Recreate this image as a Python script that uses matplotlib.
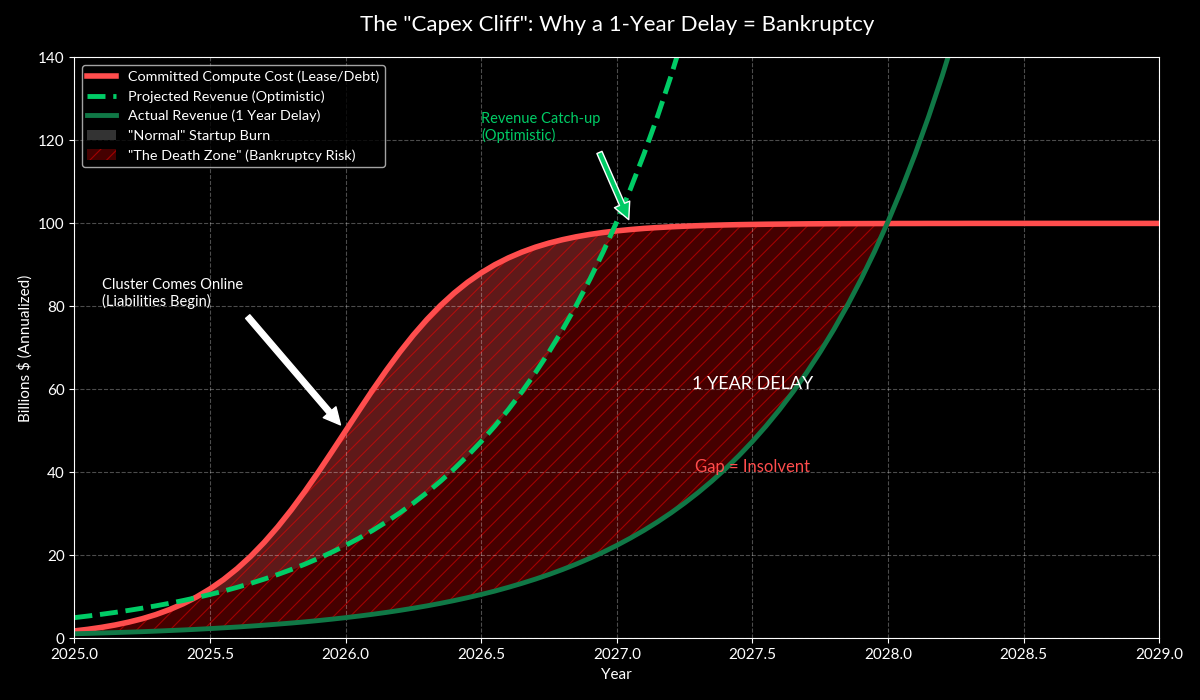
import matplotlib
matplotlib.use("Agg")
import matplotlib.pyplot as plt
import numpy as np

# values, every 0.05 year
years = [2025.00, 2025.05, 2025.10, 2025.15, 2025.20, 2025.25, 2025.30, 2025.35, 2025.40, 2025.45,
         2025.50, 2025.55, 2025.60, 2025.65, 2025.70, 2025.75, 2025.80, 2025.85, 2025.90, 2025.95,
         2026.00, 2026.05, 2026.10, 2026.15, 2026.20, 2026.25, 2026.30, 2026.35, 2026.40, 2026.45,
         2026.50, 2026.55, 2026.60, 2026.65, 2026.70, 2026.75, 2026.80, 2026.85, 2026.90, 2026.95,
         2027.00, 2027.05, 2027.10, 2027.15, 2027.20, 2027.25, 2027.30, 2027.35, 2027.40, 2027.45,
         2027.50, 2027.55, 2027.60, 2027.65, 2027.70, 2027.75, 2027.80, 2027.85, 2027.90, 2027.95,
         2028.00, 2028.05, 2028.10, 2028.15, 2028.20, 2028.25, 2028.30, 2028.35, 2028.40, 2028.45,
         2028.50, 2028.55, 2028.60, 2028.65, 2028.70, 2028.75, 2028.80, 2028.85, 2028.90, 2028.95,
         2029.00]
cost = [1.80, 2.19, 2.66, 3.23, 3.92, 4.74, 5.73, 6.92, 8.32, 9.97,
        11.92, 14.18, 16.80, 19.78, 23.15, 26.89, 31.00, 35.43, 40.13, 45.02,
        50.00, 54.98, 59.87, 64.57, 69.00, 73.11, 76.85, 80.22, 83.20, 85.82,
        88.08, 90.03, 91.68, 93.08, 94.27, 95.26, 96.08, 96.77, 97.34, 97.81,
        98.20, 98.52, 98.79, 99.00, 99.18, 99.33, 99.45, 99.55, 99.63, 99.70,
        99.75, 99.80, 99.83, 99.86, 99.89, 99.91, 99.93, 99.94, 99.95, 99.96,
        99.97, 99.98, 99.98, 99.99, 99.99, 99.99, 100.0, 100.0, 100.0, 100.0,
        100.0, 100.0, 100.0, 100.0, 100.0, 100.0, 100.0, 100.0, 100.0, 100.0,
        100.0]
# projected revenue, 2025.00 - 2027.25 (runs off the top after that)
projected = [5.00, 5.39, 5.81, 6.26, 6.75, 7.28, 7.84, 8.45, 9.11, 9.82,
             10.58, 11.40, 12.30, 13.26, 14.29, 15.40, 16.60, 17.89, 19.29, 20.79,
             22.41, 24.16, 26.03, 28.06, 30.25, 32.61, 35.14, 37.88, 40.83, 44.01,
             47.44, 51.14, 55.12, 59.41, 64.04, 69.03, 74.40, 80.20, 86.44, 93.17,
             100.43, 108.25, 116.68, 125.77, 135.56, 146.12]
# actual revenue (1 year delay), 2025.00 - 2028.25
actual = [1.12, 1.20, 1.30, 1.40, 1.51, 1.62, 1.75, 1.89, 2.03, 2.19,
          2.36, 2.55, 2.74, 2.96, 3.19, 3.44, 3.70, 3.99, 4.30, 4.64,
          5.00, 5.39, 5.81, 6.26, 6.75, 7.28, 7.84, 8.45, 9.11, 9.82,
          10.58, 11.40, 12.30, 13.26, 14.29, 15.40, 16.60, 17.89, 19.29, 20.79,
          22.41, 24.16, 26.03, 28.06, 30.25, 32.61, 35.14, 37.88, 40.83, 44.01,
          47.44, 51.14, 55.12, 59.41, 64.04, 69.03, 74.40, 80.20, 86.44, 93.17,
          100.43, 108.25, 116.68, 125.77, 135.56, 146.12]

plt.style.use("dark_background")
plt.rcParams["font.family"] = ["Lato", "DejaVu Sans"]
plt.rcParams["hatch.linewidth"] = 0.8

x = np.array(years)
c = np.array(cost)
p = np.array(projected)
a = np.array(actual)
n_p, n_a = len(p), len(a)

fig, ax = plt.subplots(figsize=(12, 7), dpi=100)
fig.subplots_adjust(left=0.062, right=0.966, bottom=0.088, top=0.918)

burn = ax.fill_between(x[:n_p], c[:n_p], p, where=c[:n_p] >= p, interpolate=True,
                       color="gray", alpha=0.4, linewidth=0, label='"Normal" Startup Burn')
death = ax.fill_between(x[:n_a], c[:n_a], a, where=c[:n_a] >= a, interpolate=True,
                        facecolor="darkred", edgecolor="red", alpha=0.5, hatch="//",
                        linewidth=0, label='"The Death Zone" (Bankruptcy Risk)')

l1, = ax.plot(x, c, color="#ff4d4d", lw=4, label="Committed Compute Cost (Lease/Debt)")
l2, = ax.plot(x[:n_p], p, color="#00cc66", lw=3.5, ls="--", label="Projected Revenue (Optimistic)")
l3, = ax.plot(x[:n_a], a, color="#107846", lw=3.5, label="Actual Revenue (1 Year Delay)")

ax.annotate("", xy=(2026.0, 50), xytext=(2025.62, 79),
            arrowprops=dict(facecolor="white", edgecolor="white", shrink=0.05))
ax.text(2025.1, 80, "Cluster Comes Online\n(Liabilities Begin)", color="white", fontsize=10.5)

ax.annotate("", xy=(2027.05, 100), xytext=(2026.93, 118),
            arrowprops=dict(facecolor="#00cc66", edgecolor="white", lw=1, shrink=0.05))
ax.text(2026.5, 120, "Revenue Catch-up\n(Optimistic)", color="#00cc66", fontsize=10.5)

ax.text(2027.5, 60, "1 YEAR DELAY", color="white", fontsize=13, ha="center")
ax.text(2027.5, 40, "Gap = Insolvent", color="#ff4d4d", fontsize=12, ha="center")

ax.set_xlim(2025, 2029)
ax.set_ylim(0, 140)
ax.set_title('The "Capex Cliff": Why a 1-Year Delay = Bankruptcy', fontsize=16, pad=19)
ax.set_xlabel("Year", fontsize=11)
ax.set_ylabel("Billions $ (Annualized)", fontsize=11)
ax.tick_params(labelsize=11)
ax.grid(True, linestyle="--", alpha=0.3)

ax.legend(handles=[l1, l2, l3, burn, death], loc="upper left", fontsize=10.4)

fig.savefig("out.png", dpi=100, facecolor="black")
